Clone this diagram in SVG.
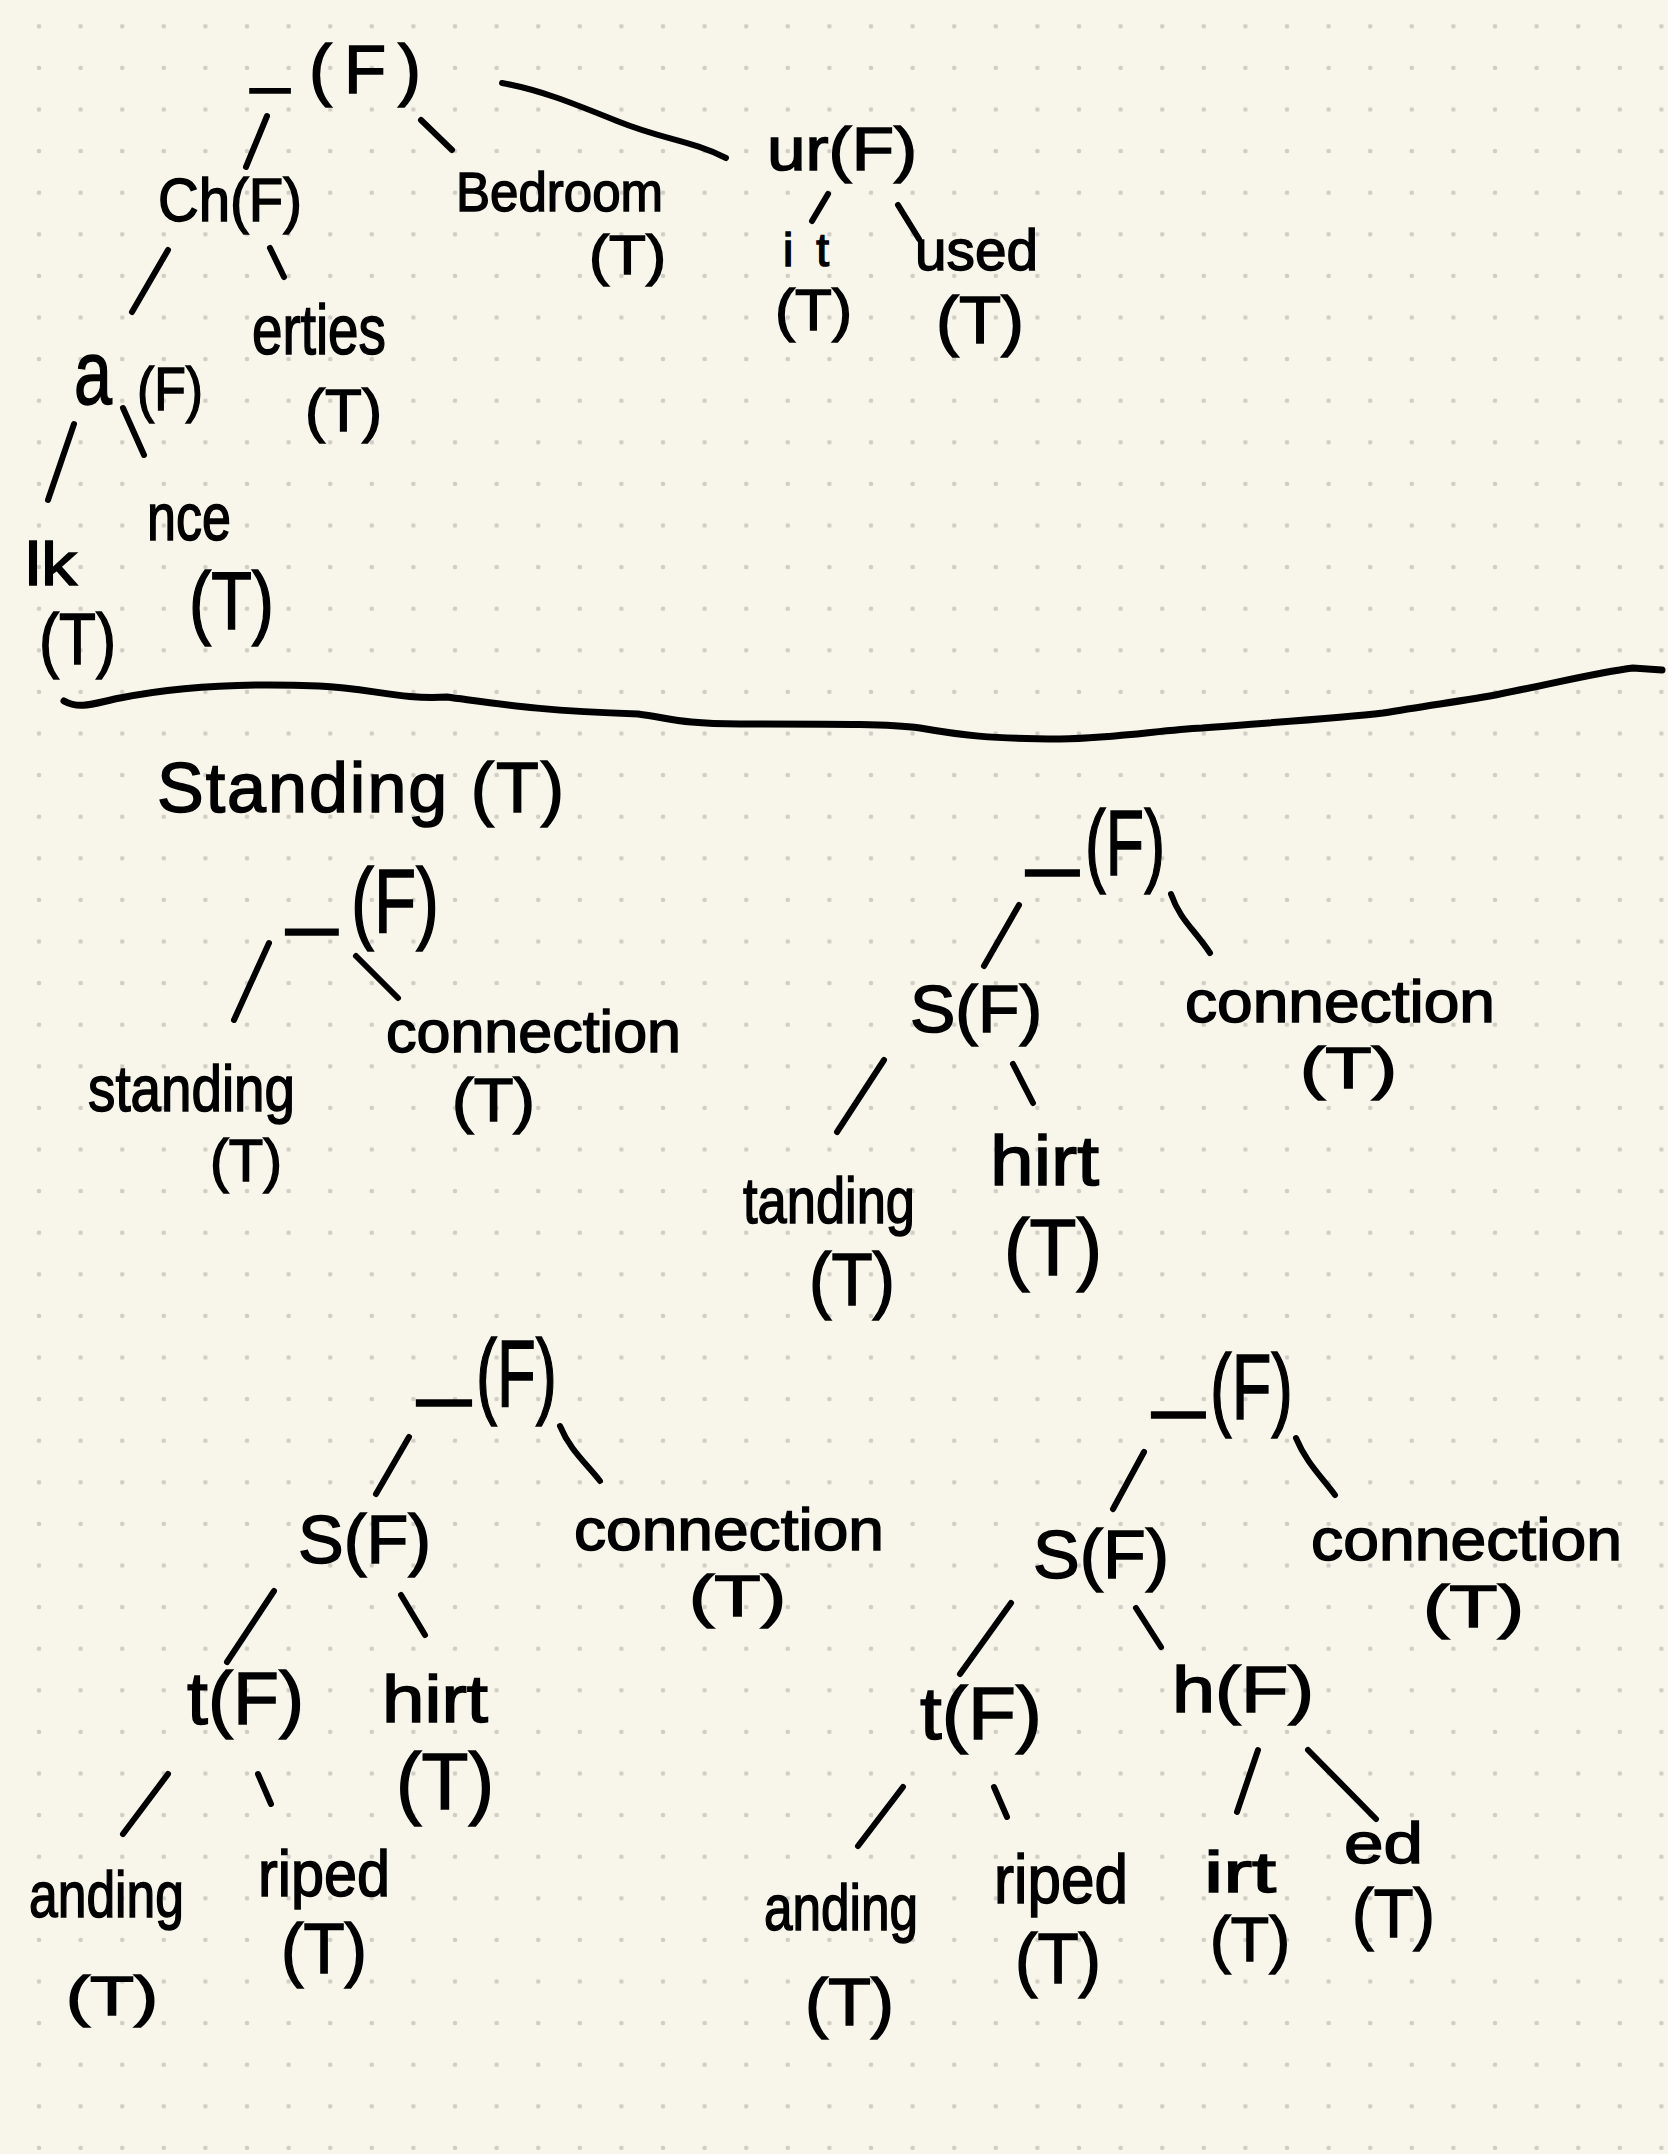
<svg xmlns="http://www.w3.org/2000/svg" width="1668" height="2154" viewBox="0 0 1668 2154">
<defs>
<pattern id="dots" x="18.2" y="5.5" width="41.6" height="41.6" patternUnits="userSpaceOnUse">
<circle cx="20.8" cy="20.8" r="2.3" fill="#cfcdc4"/>
</pattern>
<style>
text{font-family:"Liberation Sans","DejaVu Sans",sans-serif;fill:#000;stroke:#000;stroke-width:1.5;}
.c line,.c path{stroke:#000;stroke-width:6;stroke-linecap:round;fill:none;}
</style>
</defs>
<rect width="1668" height="2154" fill="#f8f6eb"/>
<rect width="1668" height="2154" fill="url(#dots)"/>

<g class="c" id="connectors">
<line x1="267" y1="116" x2="246" y2="167"/>
<line x1="421" y1="120" x2="452" y2="150"/>
<path d="M502 83 C540 90 570 102 617 121 S690 140 726 158"/>
<line x1="828" y1="194" x2="812" y2="221"/>
<line x1="898" y1="205" x2="919" y2="239"/>
<line x1="168" y1="250" x2="132" y2="312"/>
<line x1="270" y1="248" x2="284" y2="277"/>
<line x1="74" y1="424" x2="48" y2="500"/>
<line x1="123" y1="408" x2="144" y2="455"/>
<path d="M64 701 C80 710 95 703 120 698 C180 686 250 683 319 686 C370 688 400 700 447 697 C500 704 540 711 638 714 C670 718 680 724 740 724 C850 724 890 724 920 728 C960 735 990 739 1060 739 C1120 738 1160 730 1202 728 C1280 722 1340 718 1383 713 C1430 705 1470 700 1500 694 C1560 682 1600 672 1633 668 L1662 670" style="stroke-width:7"/>
<line x1="269" y1="943" x2="234" y2="1020"/>
<line x1="356" y1="956" x2="398" y2="998"/>
<line x1="1019" y1="905" x2="984" y2="966"/>
<path d="M1171 894 C1180 920 1195 930 1210 953"/>
<line x1="884" y1="1060" x2="837" y2="1132"/>
<line x1="1013" y1="1064" x2="1033" y2="1103"/>
<line x1="409" y1="1437" x2="376" y2="1494"/>
<path d="M560 1426 C570 1450 585 1462 600 1481"/>
<line x1="274" y1="1591" x2="227" y2="1662"/>
<line x1="401" y1="1595" x2="425" y2="1635"/>
<line x1="168" y1="1774" x2="123" y2="1834"/>
<line x1="258" y1="1774" x2="271" y2="1804"/>
<line x1="1144" y1="1452" x2="1113" y2="1509"/>
<path d="M1296 1438 C1306 1462 1320 1475 1335 1495"/>
<line x1="1011" y1="1603" x2="960" y2="1674"/>
<line x1="1136" y1="1608" x2="1161" y2="1647"/>
<line x1="903" y1="1787" x2="858" y2="1846"/>
<line x1="994" y1="1787" x2="1007" y2="1817"/>
<line x1="1258" y1="1750" x2="1237" y2="1812"/>
<line x1="1308" y1="1750" x2="1376" y2="1819"/>
</g>

<!-- Top tree -->
<g id="t1-root"><text font-size="69"><tspan x="251" y="79">_</tspan><tspan x="309" y="93" textLength="112" lengthAdjust="spacing">(F)</tspan></text></g>
<g id="t1-ch"><text x="158" y="221" font-size="62" textLength="144" lengthAdjust="spacingAndGlyphs">Ch(F)</text></g>
<g id="t1-bedroom"><text x="456" y="211" font-size="56" textLength="207" lengthAdjust="spacingAndGlyphs">Bedroom</text><text x="589" y="274" font-size="55" textLength="77" lengthAdjust="spacingAndGlyphs">(T)</text></g>
<g id="t1-ur"><text x="767" y="170" font-size="62" textLength="150" lengthAdjust="spacingAndGlyphs">ur(F)</text></g>
<g id="t1-it"><text x="783" y="266" font-size="46" textLength="46" lengthAdjust="spacing">it</text><text x="775" y="330" font-size="58" textLength="77" lengthAdjust="spacingAndGlyphs">(T)</text></g>
<g id="t1-used"><text x="915" y="270" font-size="58" textLength="123" lengthAdjust="spacingAndGlyphs">used</text><text x="936" y="343" font-size="66" textLength="88" lengthAdjust="spacingAndGlyphs">(T)</text></g>
<g id="t1-erties"><text x="252" y="354" font-size="70" textLength="134" lengthAdjust="spacingAndGlyphs">erties</text><text x="305" y="431" font-size="60" textLength="77" lengthAdjust="spacingAndGlyphs">(T)</text></g>
<g id="t1-a"><text x="74" y="404" font-size="90" textLength="38" lengthAdjust="spacingAndGlyphs">a</text><text x="137" y="410" font-size="62" textLength="66" lengthAdjust="spacingAndGlyphs">(F)</text></g>
<g id="t1-lk"><text x="25" y="585" font-size="62" textLength="52" lengthAdjust="spacingAndGlyphs">lk</text><text x="39" y="664" font-size="72" textLength="77" lengthAdjust="spacingAndGlyphs">(T)</text></g>
<g id="t1-nce"><text x="147" y="540" font-size="66" textLength="84" lengthAdjust="spacingAndGlyphs">nce</text><text x="189" y="629" font-size="82" textLength="85" lengthAdjust="spacingAndGlyphs">(T)</text></g>

<!-- Section 2 -->
<g id="standing-title"><text x="157" y="812" font-size="70" textLength="407" lengthAdjust="spacing">Standing (T)</text></g>

<g id="t2-root"><text font-size="90"><tspan x="287" y="917">_</tspan><tspan x="351" y="932" textLength="88" lengthAdjust="spacingAndGlyphs">(F)</tspan></text></g>
<g id="t2-standing"><text x="88" y="1111" font-size="64" textLength="207" lengthAdjust="spacingAndGlyphs">standing</text><text x="210" y="1181" font-size="60" textLength="72" lengthAdjust="spacingAndGlyphs">(T)</text></g>
<g id="t2-connection"><text x="386" y="1052" font-size="60" textLength="295" lengthAdjust="spacingAndGlyphs">connection</text><text x="452" y="1121" font-size="62" textLength="83" lengthAdjust="spacingAndGlyphs">(T)</text></g>

<g id="t3-root"><text font-size="92"><tspan x="1027" y="858">_</tspan><tspan x="1085" y="875" textLength="80" lengthAdjust="spacingAndGlyphs">(F)</tspan></text></g>
<g id="t3-s"><text x="910" y="1032" font-size="66" textLength="132" lengthAdjust="spacingAndGlyphs">S(F)</text></g>
<g id="t3-connection"><text x="1185" y="1022" font-size="60" textLength="310" lengthAdjust="spacingAndGlyphs">connection</text><text x="1300" y="1088" font-size="58" textLength="97" lengthAdjust="spacingAndGlyphs">(T)</text></g>
<g id="t3-tanding"><text x="743" y="1223" font-size="64" textLength="172" lengthAdjust="spacingAndGlyphs">tanding</text><text x="809" y="1305" font-size="74" textLength="86" lengthAdjust="spacingAndGlyphs">(T)</text></g>
<g id="t3-hirt"><text x="990" y="1185" font-size="70" textLength="109" lengthAdjust="spacingAndGlyphs">hirt</text><text x="1004" y="1275" font-size="80" textLength="98" lengthAdjust="spacingAndGlyphs">(T)</text></g>

<g id="t4-root"><text font-size="94"><tspan x="418" y="1387">_</tspan><tspan x="476" y="1406" textLength="81" lengthAdjust="spacingAndGlyphs">(F)</tspan></text></g>
<g id="t4-s"><text x="298" y="1563" font-size="68" textLength="133" lengthAdjust="spacingAndGlyphs">S(F)</text></g>
<g id="t4-connection"><text x="574" y="1550" font-size="60" textLength="310" lengthAdjust="spacingAndGlyphs">connection</text><text x="689" y="1616" font-size="58" textLength="97" lengthAdjust="spacingAndGlyphs">(T)</text></g>
<g id="t4-t"><text x="187" y="1724" font-size="75" textLength="117" lengthAdjust="spacingAndGlyphs">t(F)</text></g>
<g id="t4-hirt"><text x="382" y="1722" font-size="66" textLength="106" lengthAdjust="spacingAndGlyphs">hirt</text><text x="396" y="1809" font-size="80" textLength="98" lengthAdjust="spacingAndGlyphs">(T)</text></g>
<g id="t4-anding"><text x="29" y="1917" font-size="64" textLength="155" lengthAdjust="spacingAndGlyphs">anding</text><text x="66" y="2015" font-size="55" textLength="92" lengthAdjust="spacingAndGlyphs">(T)</text></g>
<g id="t4-riped"><text x="258" y="1896" font-size="64" textLength="132" lengthAdjust="spacingAndGlyphs">riped</text><text x="281" y="1973" font-size="70" textLength="86" lengthAdjust="spacingAndGlyphs">(T)</text></g>

<g id="t5-root"><text font-size="92"><tspan x="1153" y="1400">_</tspan><tspan x="1210" y="1419" textLength="83" lengthAdjust="spacingAndGlyphs">(F)</tspan></text></g>
<g id="t5-s"><text x="1033" y="1578" font-size="69" textLength="136" lengthAdjust="spacingAndGlyphs">S(F)</text></g>
<g id="t5-connection"><text x="1311" y="1560" font-size="60" textLength="311" lengthAdjust="spacingAndGlyphs">connection</text><text x="1423" y="1627" font-size="60" textLength="101" lengthAdjust="spacingAndGlyphs">(T)</text></g>
<g id="t5-t"><text x="920" y="1739" font-size="75" textLength="122" lengthAdjust="spacingAndGlyphs">t(F)</text></g>
<g id="t5-h"><text x="1172" y="1712" font-size="64" textLength="142" lengthAdjust="spacingAndGlyphs">h(F)</text></g>
<g id="t5-anding"><text x="764" y="1930" font-size="64" textLength="154" lengthAdjust="spacingAndGlyphs">anding</text><text x="805" y="2025" font-size="66" textLength="89" lengthAdjust="spacingAndGlyphs">(T)</text></g>
<g id="t5-riped"><text x="994" y="1903" font-size="68" textLength="134" lengthAdjust="spacingAndGlyphs">riped</text><text x="1015" y="1983" font-size="71" textLength="86" lengthAdjust="spacingAndGlyphs">(T)</text></g>
<g id="t5-irt"><text x="1204" y="1892" font-size="58" textLength="72" lengthAdjust="spacingAndGlyphs">irt</text><text x="1210" y="1961" font-size="63" textLength="80" lengthAdjust="spacingAndGlyphs">(T)</text></g>
<g id="t5-ed"><text x="1344" y="1863" font-size="58" textLength="79" lengthAdjust="spacingAndGlyphs">ed</text><text x="1352" y="1937" font-size="68" textLength="83" lengthAdjust="spacingAndGlyphs">(T)</text></g>
</svg>
